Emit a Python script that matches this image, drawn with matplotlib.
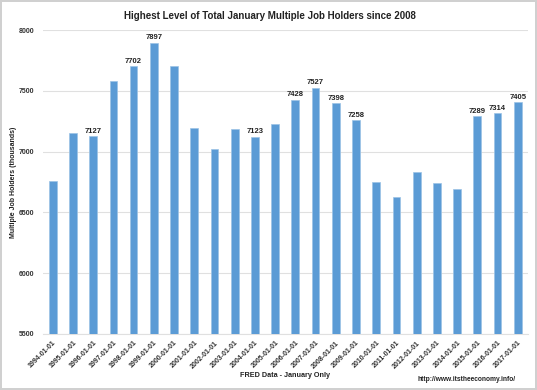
from matplotlib import pyplot as plt

# January multiple job holders (thousands)
dates = ['1994-01-01', '1995-01-01', '1996-01-01', '1997-01-01', '1998-01-01', '1999-01-01',
         '2000-01-01', '2001-01-01', '2002-01-01', '2003-01-01', '2004-01-01', '2005-01-01',
         '2006-01-01', '2007-01-01', '2008-01-01', '2009-01-01', '2010-01-01', '2011-01-01',
         '2012-01-01', '2013-01-01', '2014-01-01', '2015-01-01', '2016-01-01', '2017-01-01']
holders = [6756, 7157, 7127, 7577, 7702, 7897,
           7707, 7198, 7020, 7184, 7123, 7228,
           7428, 7527, 7398, 7258, 6752, 6624,
           6832, 6740, 6690, 7289, 7314, 7405]
# years that get a value label
labeled = ['1996-01-01', '1998-01-01', '1999-01-01', '2004-01-01', '2006-01-01', '2007-01-01',
           '2008-01-01', '2009-01-01', '2015-01-01', '2016-01-01', '2017-01-01']

plt.rcParams['font.family'] = ['Liberation Sans', 'DejaVu Sans']

fig = plt.figure(figsize=(5.37, 3.9), dpi=100)
fig.patch.set_edgecolor('#d0d0d0')
fig.patch.set_linewidth(1.5)
ax = fig.add_axes([0.0793, 0.1436, 0.9037, 0.7794])

x = range(len(dates))
bars = ax.bar(x, holders, width=0.38, color='#5b9bd5', edgecolor='#9cc3e6', linewidth=0.5, zorder=3)

for i, d in enumerate(dates):
    if d in labeled:
        ax.text(i, holders[i] + 12, str(holders[i]), ha='center', va='bottom',
                fontsize=5.5, fontweight='bold', color='#222222')

ax.set_xlim(-0.5, len(dates) - 0.5)
ax.set_ylim(5500, 8000)
ax.set_yticks([5500, 6000, 6500, 7000, 7500, 8000])
ax.set_xticks(list(x))
ax.set_xticklabels(dates, rotation=45, ha='right', rotation_mode='anchor',
                   fontsize=5, fontweight='bold', color='#333333')
for lab in ax.get_yticklabels():
    lab.set_fontsize(5)
    lab.set_fontweight('bold')
    lab.set_color('#333333')
ax.tick_params(axis='y', length=0, pad=6)
ax.tick_params(axis='x', length=0, pad=4)
ax.yaxis.grid(True, color='#e0e0e0', linewidth=0.8, zorder=0)
for s in ['top', 'right', 'left']:
    ax.spines[s].set_visible(False)
ax.spines['bottom'].set_color('#e0e0e0')

ax.set_ylabel('Multiple Job Holders (thousands)', fontsize=5, fontweight='bold',
              color='#222222', labelpad=1)
fig.text(0.502, 0.96, 'Highest Level of Total January Multiple Job Holders since 2008',
         ha='center', va='center', fontsize=7, fontweight='bold', color='#222222')
fig.text(0.53, 0.038, 'FRED Data - January Only', ha='center', va='center',
         fontsize=5.2, fontweight='bold', color='#222222')
fig.text(0.868, 0.028, 'http://www.itstheeconomy.info/', ha='center', va='center',
         fontsize=4.8, fontweight='bold', color='#222222')

plt.savefig('out.png', dpi=100)
